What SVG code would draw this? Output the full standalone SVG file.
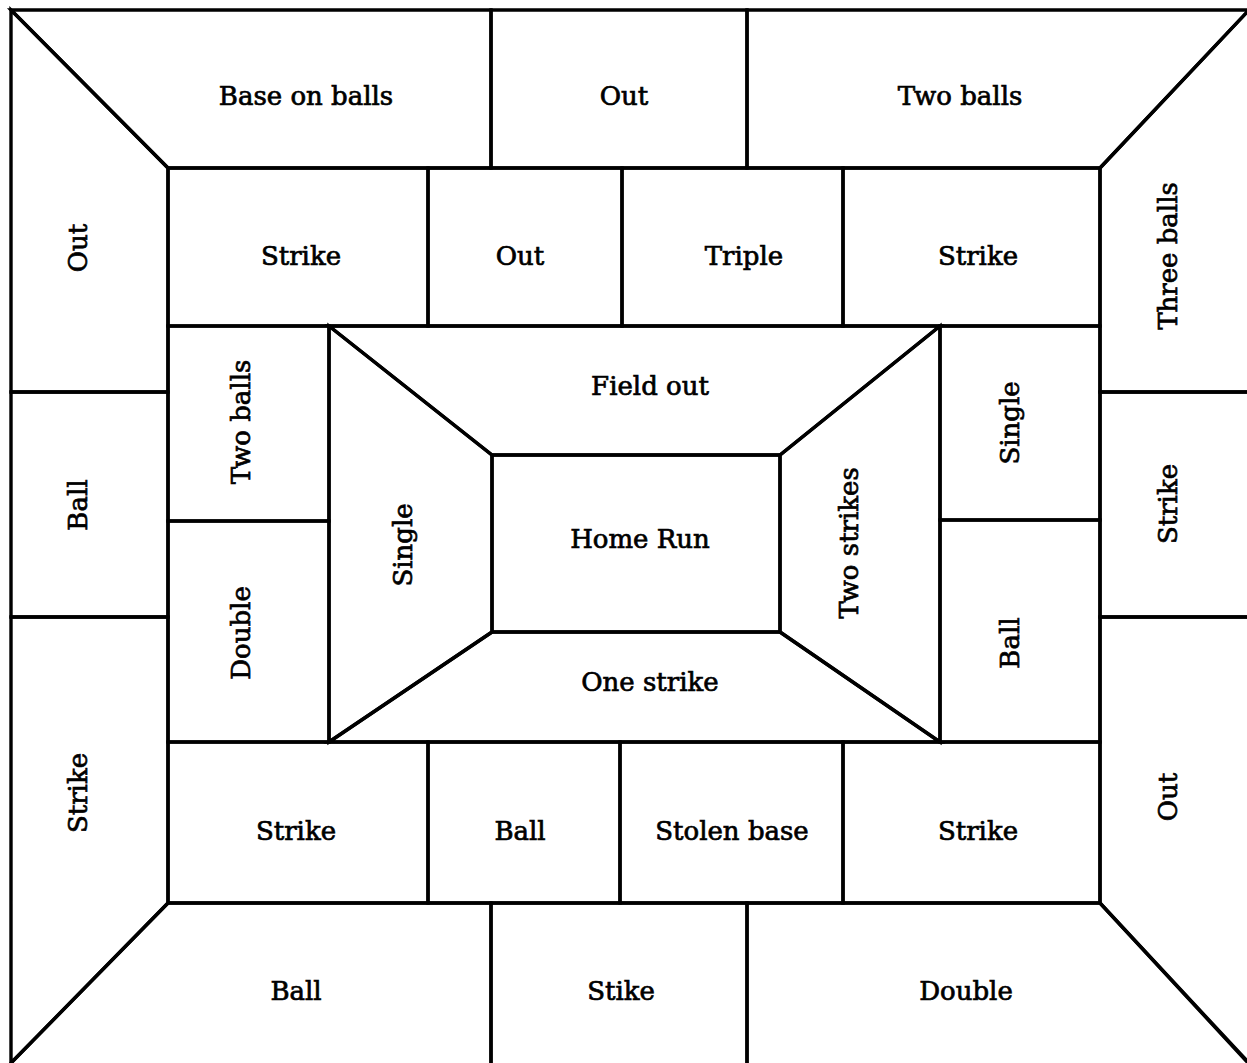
<svg xmlns="http://www.w3.org/2000/svg" width="1247" height="1063" viewBox="0 0 1247 1063">
<style>
.c{fill:none;stroke:#000;stroke-width:3.4;stroke-linejoin:miter}
text{font-family:"DejaVu Serif","Liberation Serif",serif;font-size:26px;fill:#000;stroke:#000;stroke-width:0.7;text-anchor:middle;dominant-baseline:central}
</style>
<rect width="1247" height="1063" fill="#fff"/>
<g id="outer-top-left"><polygon class="c" points="11,10 491,10 491,168 168,168"/><text x="306" y="96">Base on balls</text></g>
<g id="outer-top-mid"><polygon class="c" points="491,10 747,10 747,168 491,168"/><text x="624" y="96">Out</text></g>
<g id="outer-top-right"><polygon class="c" points="747,10 1249,10 1249,10 1100,168 747,168"/><text x="960" y="96">Two balls</text></g>
<g id="outer-left-top"><polygon class="c" points="11,10 168,168 168,392 11,392"/><text transform="translate(78,248) rotate(-90)">Out</text></g>
<g id="outer-left-mid"><polygon class="c" points="11,392 168,392 168,617 11,617"/><text transform="translate(78,505) rotate(-90)">Ball</text></g>
<g id="outer-left-bottom"><polygon class="c" points="11,617 168,617 168,903 11,1063"/><text transform="translate(78,793) rotate(-90)">Strike</text></g>
<g id="outer-right-top"><polygon class="c" points="1249,10 1249,392 1100,392 1100,168"/><text transform="translate(1168,256) rotate(-90)">Three balls</text></g>
<g id="outer-right-mid"><polygon class="c" points="1100,392 1249,392 1249,617 1100,617"/><text transform="translate(1168,504) rotate(-90)">Strike</text></g>
<g id="outer-right-bottom"><polygon class="c" points="1100,617 1249,617 1249,1064 1100,903"/><text transform="translate(1168,797) rotate(-90)">Out</text></g>
<g id="outer-bottom-left"><polygon class="c" points="11,1063 168,903 491,903 491,1066 11,1066"/><text x="296" y="991">Ball</text></g>
<g id="outer-bottom-mid"><polygon class="c" points="491,903 747,903 747,1066 491,1066"/><text x="621" y="991">Stike</text></g>
<g id="outer-bottom-right"><polygon class="c" points="747,903 1100,903 1249,1063 1249,1066 747,1066"/><text x="966" y="991">Double</text></g>
<g id="mid-top-1"><rect class="c" x="168" y="168" width="260" height="158"/><text x="301" y="256">Strike</text></g>
<g id="mid-top-2"><rect class="c" x="428" y="168" width="194" height="158"/><text x="520" y="256">Out</text></g>
<g id="mid-top-3"><rect class="c" x="622" y="168" width="221" height="158"/><text x="744" y="256">Triple</text></g>
<g id="mid-top-4"><rect class="c" x="843" y="168" width="257" height="158"/><text x="978" y="256">Strike</text></g>
<g id="mid-left-1"><rect class="c" x="168" y="326" width="161" height="195"/><text transform="translate(241,422) rotate(-90)">Two balls</text></g>
<g id="mid-left-2"><rect class="c" x="168" y="521" width="161" height="221"/><text transform="translate(241,633) rotate(-90)">Double</text></g>
<g id="mid-right-1"><rect class="c" x="940" y="326" width="160" height="194"/><text transform="translate(1010,423) rotate(-90)">Single</text></g>
<g id="mid-right-2"><rect class="c" x="940" y="520" width="160" height="222"/><text transform="translate(1010,643) rotate(-90)">Ball</text></g>
<g id="mid-bottom-1"><rect class="c" x="168" y="742" width="260" height="161"/><text x="296" y="831">Strike</text></g>
<g id="mid-bottom-2"><rect class="c" x="428" y="742" width="192" height="161"/><text x="520" y="831">Ball</text></g>
<g id="mid-bottom-3"><rect class="c" x="620" y="742" width="223" height="161"/><text x="732" y="831">Stolen base</text></g>
<g id="mid-bottom-4"><rect class="c" x="843" y="742" width="257" height="161"/><text x="978" y="831">Strike</text></g>
<g id="inner-top"><polygon class="c" points="329,326 940,326 780,455 492,455"/><text x="650" y="386">Field out</text></g>
<g id="inner-left"><polygon class="c" points="329,326 492,455 492,632 329,742"/><text transform="translate(403,545) rotate(-90)">Single</text></g>
<g id="inner-right"><polygon class="c" points="940,326 940,742 780,632 780,455"/><text transform="translate(849,543) rotate(-90)">Two strikes</text></g>
<g id="inner-bottom"><polygon class="c" points="329,742 492,632 780,632 940,742"/><text x="650" y="682">One strike</text></g>
<g id="home-run"><rect class="c" x="492" y="455" width="288" height="177"/><text x="640" y="539">Home Run</text></g>
</svg>
